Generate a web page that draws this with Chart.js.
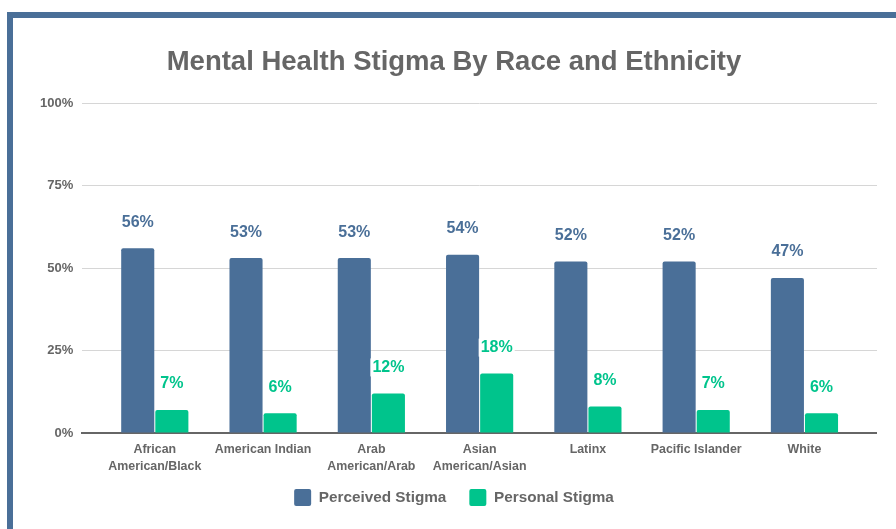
<html><head>
<script src="https://cdn.jsdelivr.net/npm/chart.js"></script>
<title>Mental Health Stigma By Race and Ethnicity</title>
<style>
body { margin: 0; background: #fff; overflow: hidden; }
#frame {
  position: absolute; left: 7px; top: 12px;
  width: 900px; height: 530px;
  border-left: 6px solid #4a6f98; border-top: 6px solid #4a6f98;
  background: #fff;
}
#chart-container { position: absolute; left: 0; top: 0; width: 864px; height: 511px; }
</style>
</head>
<body>
<div id="frame">
  <div id="chart-container"><canvas id="chart"></canvas></div>
</div>
<script>
const categories = [['African', 'American/Black'], 'American Indian', ['Arab', 'American/Arab'],
  ['Asian', 'American/Asian'], 'Latinx', 'Pacific Islander', 'White'];
const perceived = [56, 53, 53, 54, 52, 52, 47];
const personal = [7, 6, 12, 18, 8, 7, 6];
const yTicks = [0, 25, 50, 75, 100];

const BLUE = '#4a6f98';
const GREEN = '#00c48c';
const GRAY = '#666666';
const FONT = 'Liberation Sans, Arial, sans-serif';

// draws the % value above each bar, with a white box behind it
const valueLabels = {
  id: 'valueLabels',
  afterDatasetsDraw(chart) {
    const ctx = chart.ctx;
    ctx.save();
    ctx.font = 'bold 16px ' + FONT;
    ctx.textAlign = 'center';
    ctx.textBaseline = 'middle';
    chart.data.datasets.forEach((ds, i) => {
      chart.getDatasetMeta(i).data.forEach((bar, j) => {
        const txt = ds.data[j] + '%';
        const y = bar.y - 26;
        const w = ctx.measureText(txt).width;
        ctx.fillStyle = '#fff';
        ctx.fillRect(bar.x - w / 2 - 2, y - 9, w + 4, 18);
        ctx.fillStyle = ds.backgroundColor;
        ctx.fillText(txt, bar.x, y);
      });
    });
    ctx.restore();
  }
};

const ctx = document.getElementById('chart').getContext('2d');
new Chart(ctx, {
  type: 'bar',
  data: {
    labels: categories,
    datasets: [{
      label: 'Perceived Stigma',
      data: perceived,
      backgroundColor: BLUE,
      borderRadius: { topLeft: 2, topRight: 2 },
      borderSkipped: 'bottom',
      categoryPercentage: 0.63,
      barPercentage: 0.97
    }, {
      label: 'Personal Stigma',
      data: personal,
      backgroundColor: GREEN,
      borderRadius: { topLeft: 2, topRight: 2 },
      borderSkipped: 'bottom',
      categoryPercentage: 0.63,
      barPercentage: 0.97
    }]
  },
  options: {
    responsive: true,
    maintainAspectRatio: false,
    animation: false,
    layout: { padding: { left: 18, right: 0, top: 28, bottom: 13 } },
    plugins: {
      title: {
        display: true,
        text: 'Mental Health Stigma By Race and Ethnicity',
        color: GRAY,
        font: { family: FONT, size: 27.5, weight: 'bold' },
        padding: { top: 0, bottom: 24 }
      },
      legend: {
        position: 'bottom',
        labels: {
          color: GRAY,
          font: { family: FONT, size: 15.3, weight: 'bold' },
          boxWidth: 17, boxHeight: 17,
          padding: 23,
          useBorderRadius: true, borderRadius: 2
        }
      },
      tooltip: { enabled: false }
    },
    scales: {
      x: {
        grid: { display: false, drawTicks: false },
        border: { color: GRAY, width: 2 },
        // bars sit inset from the ends of the axis line
        afterBuildTicks: s => { s._startValue -= 0.17; s._valueRange += 0.34; },
        // pull the legend closer; let the labels draw past the shortened box
        afterFit: s => { s.height -= 17; s._computeLabelArea = () => undefined; },
        ticks: {
          color: GRAY, padding: 8, maxRotation: 0, autoSkip: false,
          font: { family: FONT, size: 12.4, weight: 'bold', lineHeight: 1.37 }
        }
      },
      y: {
        min: 0, max: 100,
        afterBuildTicks: axis => { axis.ticks = yTicks.map(v => ({ value: v })); },
        grid: { color: '#d6d6d6', lineWidth: 1, drawTicks: false },
        border: { display: false },
        ticks: {
          color: GRAY, padding: 9,
          font: { family: FONT, size: 13, weight: 'bold' },
          callback: v => v + '%'
        }
      }
    }
  },
  plugins: [valueLabels]
});
</script>
</body></html>
